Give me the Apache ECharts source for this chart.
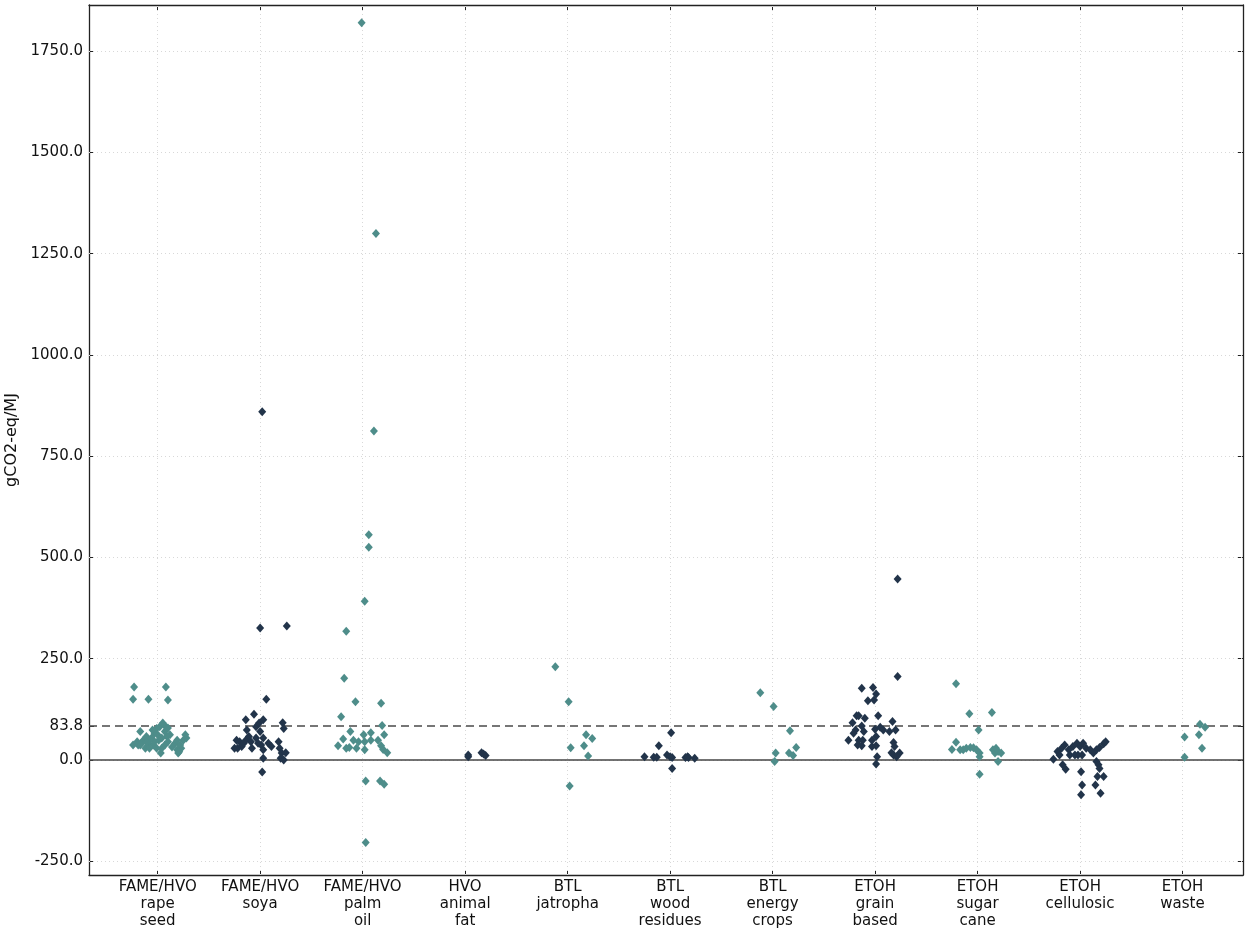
<!DOCTYPE html>
<html>
<head>
<meta charset="utf-8">
<script src="https://cdn.jsdelivr.net/npm/echarts@6/dist/echarts.min.js"></script>
<style>html,body{margin:0;padding:0;background:#fff}#c{width:1252px;height:929px}</style>
</head>
<body>
<div id="c"></div>
<script>
// ---- DATA ----
const categories = [
  "FAME/HVO\nrape\nseed", "FAME/HVO\nsoya", "FAME/HVO\npalm\noil", "HVO\nanimal\nfat",
  "BTL\njatropha", "BTL\nwood\nresidues", "BTL\nenergy\ncrops", "ETOH\ngrain\nbased",
  "ETOH\nsugar\ncane", "ETOH\ncellulosic", "ETOH\nwaste"
];
const categoryPositions = [1,2,3,4,5,6,7,8,9,10,11];
const yTickValues = [-250, 0, 83.8, 250, 500, 750, 1000, 1250, 1500, 1750];
const gridYValues = [-250, 0, 250, 500, 750, 1000, 1250, 1500, 1750];
const thresholdValue = 83.8;
const zeroValue = 0;

// [jittered category position, gCO2-eq/MJ]
const rapeSeed = [[0.77,180],[1.08,180],[0.76,150],[0.91,150],[1.10,148],
  [0.76,37],[0.80,45],[0.83,70],[0.86,49],[0.88,29],[0.91,41],[0.94,54],[0.97,66],[0.99,78],[1.02,82],
  [1.05,91],[1.07,70],[1.01,49],[1.03,17],[1.04,29],[0.96,37],[0.92,29],[1.09,58],[1.10,45],[1.17,41],
  [1.19,25],[1.20,17],[1.23,29],[1.25,49],[1.27,62],[1.22,37],[1.19,49],[0.89,58],[0.84,41],[0.81,37],
  [0.97,45],[0.99,29],[1.07,37],[1.12,62],[1.08,82],[0.92,49],[1.00,62],[1.04,54],[0.89,44],[1.14,32],
  [1.28,54],[1.21,20],[0.95,74],[1.10,79],[0.83,37]];
const soya = [[2.02,860],[2.00,326],[2.26,331],[2.06,150],[1.94,113],[1.86,99],[2.03,99],[2.22,92],[2.23,78],
  [1.87,74],[1.96,82],[2.00,70],[1.77,49],[1.80,45],[1.86,49],[1.91,45],[1.96,54],[2.03,54],[1.75,29],
  [1.82,33],[1.92,29],[2.01,37],[2.08,41],[2.03,25],[2.03,4],[2.18,45],[2.19,29],[2.21,17],[2.20,4],
  [2.23,0],[2.25,18],[2.02,-30],[1.78,29],[1.84,41],[1.98,41],[2.11,33],[1.89,58],[1.99,91]];
const palmOil = [[2.99,1820],[3.13,1300],[3.11,812],[3.06,556],[3.06,525],[3.02,392],[2.84,318],
  [2.82,202],[2.93,144],[3.18,140],[2.79,107],[3.19,85],[2.88,70],[3.01,62],[3.08,67],[3.21,62],
  [2.76,35],[2.81,52],[2.84,29],[2.91,49],[2.96,45],[3.02,45],[3.02,25],[3.08,49],[3.15,49],[3.18,35],
  [3.20,26],[3.24,18],[2.94,29],[2.87,31],[3.03,-52],[3.17,-52],[3.21,-60],[3.03,-204]];
const animalFat = [[4.03,12],[4.03,8],[4.16,18],[4.20,11],[4.18,15]];
const jatropha = [[4.88,230],[5.01,144],[5.18,62],[5.24,53],[5.16,35],[5.03,30],[5.20,10],[5.02,-64]];
const woodResidues = [[5.75,8],[5.84,7],[5.87,7],[5.89,35],[5.97,12],[6.01,67],[6.02,6],[6.02,-21],
  [6.15,6],[6.18,6],[6.24,4],[6.17,8],[6.00,8]];
const energyCrops = [[6.88,166],[7.01,132],[7.17,72],[7.23,31],[7.03,17],[7.02,-4],[7.16,17],[7.20,11]];
const grainBased = [[8.22,447],[8.22,206],[7.87,177],[7.98,179],[8.01,163],[7.93,146],[7.99,148],[7.82,109],
  [7.84,109],[7.90,103],[8.03,109],[7.78,92],[8.17,95],[7.87,84],[7.81,74],[8.05,81],[8.08,74],[8.00,76],
  [8.14,70],[8.20,74],[7.79,66],[7.89,70],[7.74,49],[7.84,49],[7.88,49],[7.97,49],[8.01,58],[7.83,37],
  [7.87,35],[8.01,35],[8.18,43],[8.19,33],[8.16,18],[8.18,12],[8.24,17],[8.21,8],[8.02,8],[8.01,-10],[7.97,33]];
const sugarCane = [[8.79,188],[8.92,114],[9.14,117],[9.01,74],[8.79,44],[8.75,26],[8.83,25],[8.86,25],
  [8.89,29],[8.93,31],[8.96,30],[8.99,25],[9.02,17],[9.02,8],[9.15,25],[9.17,17],[9.20,21],[9.23,17],
  [9.20,-4],[9.02,-35],[9.18,29]];
const cellulosic = [[9.74,2],[9.78,21],[9.82,29],[9.85,37],[9.89,25],[9.90,12],[9.93,33],[9.97,41],[10.00,33],
  [10.03,41],[10.06,29],[9.98,12],[9.95,12],[10.02,12],[9.83,-12],[9.86,-23],[10.01,-29],[10.02,-62],
  [10.01,-86],[10.13,17],[10.16,25],[10.19,31],[10.23,40],[10.25,45],[10.16,-4],[10.18,-12],[10.19,-21],
  [10.17,-41],[10.23,-41],[10.15,-62],[10.20,-82],[10.10,25],[9.80,12]];
const waste = [[11.02,7],[11.02,57],[11.16,62],[11.19,29],[11.17,88],[11.22,81]];

const groups = [rapeSeed, soya, palmOil, animalFat, jatropha, woodResidues, energyCrops, grainBased, sugarCane, cellulosic, waste];

// ---- STYLE ----
const TEAL = '#4e8d8a', DARK = '#22344a';
const FONT = 'DejaVu Sans';
const chart = echarts.init(document.getElementById('c'), null, {renderer: 'canvas'});

const axisLineStyle = {color: '#222', width: 1.3};
const tickCommon = {show: true, inside: true, length: 5, lineStyle: {color: '#222', width: 1}};

const series = groups.map((g, i) => ({
  type: 'scatter', name: categories[i].replace(/\n/g, ' '),
  data: g, symbol: 'diamond', symbolSize: [8, 9], z: 5,
  itemStyle: {color: i % 2 === 0 ? TEAL : DARK, opacity: 1}
}));

series.unshift({
  type: 'line', data: [], silent: true, z: 1,
  markLine: {
    silent: true, symbol: 'none', animation: false, label: {show: false},
    lineStyle: {color: '#d8d8d8', type: [1, 3], width: 1},
    data: categoryPositions.map(v => ({xAxis: v})).concat(gridYValues.map(v => ({yAxis: v})))
  }
});
series.push({
  type: 'line', data: [], silent: true, z: 3,
  markLine: {
    silent: true, symbol: 'none', animation: false, label: {show: false},
    data: [
      {yAxis: zeroValue, lineStyle: {color: '#444', type: 'solid', width: 1.6}},
      {yAxis: thresholdValue, lineStyle: {color: '#4a4a4a', type: [8, 5], width: 1.7}}
    ]
  }
});

chart.setOption({
  animation: false,
  backgroundColor: '#fff',
  grid: {left: 89, right: 9, top: 5, bottom: 54, containLabel: false, outerBoundsMode: 'none'},
  xAxis: [{
    type: 'value', min: 0.33, max: 11.59, position: 'bottom',
    axisLine: {show: true, onZero: false, lineStyle: axisLineStyle},
    splitLine: {show: false},
    axisTick: Object.assign({}, tickCommon, {customValues: categoryPositions}),
    axisLabel: {
      customValues: categoryPositions, color: '#111', fontFamily: FONT, fontSize: 15, lineHeight: 17, margin: 4,
      formatter: v => categories[Math.round(v) - 1] || ''
    }
  }, {
    type: 'value', min: 0.33, max: 11.59, position: 'top',
    axisLine: {show: true, onZero: false, lineStyle: axisLineStyle},
    splitLine: {show: false},
    axisTick: Object.assign({}, tickCommon, {customValues: categoryPositions}),
    axisLabel: {show: false}
  }],
  yAxis: [{
    type: 'value', min: -284, max: 1864, position: 'left',
    name: 'gCO2-eq/MJ', nameLocation: 'middle', nameGap: 65,
    nameTextStyle: {color: '#111', fontFamily: FONT, fontSize: 16},
    axisLine: {show: true, onZero: false, lineStyle: axisLineStyle},
    splitLine: {show: false},
    axisTick: Object.assign({}, tickCommon, {customValues: yTickValues}),
    axisLabel: {
      customValues: yTickValues, color: '#111', fontFamily: FONT, fontSize: 15, margin: 6,
      formatter: v => Number(v).toFixed(1)
    }
  }, {
    type: 'value', min: -284, max: 1864, position: 'right',
    axisLine: {show: true, onZero: false, lineStyle: axisLineStyle},
    splitLine: {show: false},
    axisTick: Object.assign({}, tickCommon, {customValues: yTickValues}),
    axisLabel: {show: false}
  }],
  series: series
});
</script>
</body>
</html>
